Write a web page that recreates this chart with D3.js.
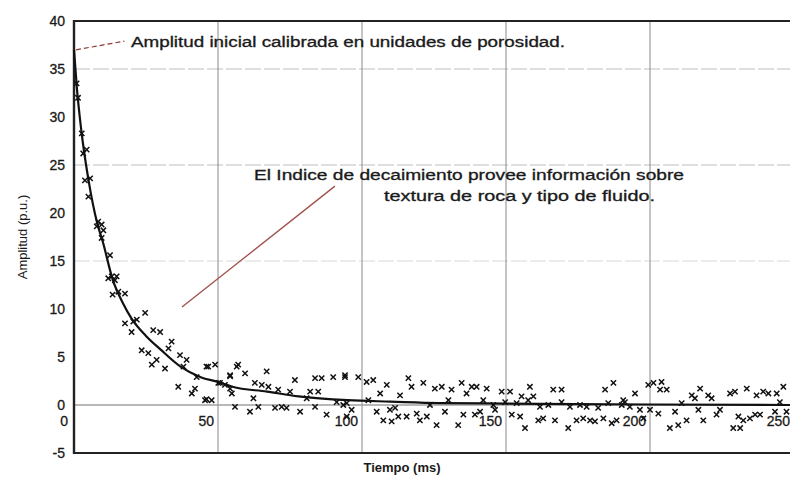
<!DOCTYPE html>
<html>
<head>
<meta charset="utf-8">
<script src="https://cdn.jsdelivr.net/npm/d3@7"></script>
<style>
  body { margin: 0; background: #fff; }
  text { font-family: "Liberation Sans", Arial, sans-serif; fill: #1a1a1a; }
  .ink { stroke: #1a1a1a; stroke-width: 0.3px; }
</style>
</head>
<body>
<div id="chart"></div>
<script>
  // fitted decay curve
  const curveT = [0, 1, 2, 3, 5, 8, 10, 13.5, 17, 20, 25, 30, 37, 44, 50, 55, 67, 78, 95, 110, 127, 150, 200, 250];
  const curveA = [37, 33, 30, 27.5, 23.5, 19, 17, 13, 10.6, 9, 7.2, 5.8, 4, 2.9, 2.4, 1.9, 1.4, 0.9, 0.5, 0.35, 0.2, 0.15, 0.05, 0];

  // measured echoes [tiempo, amplitud]
  const echoes = [
    [0.9, 33.5], [1.4, 32], [2.7, 28.3], [3.2, 26.2], [4.4, 26.6], [3.8, 23.4], [5.6, 23.6], [5, 21.7],
    [8.4, 19.1], [9.6, 18.8], [7.9, 18.6], [10.2, 18.2], [9.6, 17.4], [12.5, 15.6], [13.1, 13.4], [14.8, 13.4],
    [11.9, 13.2], [14.2, 13], [13.4, 11.5], [15.4, 11.8], [17.7, 11.6], [24.7, 9.6], [17.7, 8.5], [20.6, 8.7],
    [21.8, 8.9], [20, 7.6], [27.5, 7.8], [29.9, 7.6], [33.9, 6.6], [32.8, 5.9], [23.5, 5.7], [25.8, 5.4],
    [28.7, 4.7], [27, 4.2], [31.6, 3.8], [36.8, 5.2], [39.1, 4.7], [38, 4], [42.6, 2.9], [46.6, 4],
    [49, 4.2], [50.1, 2.3], [52.4, 2.1], [54.2, 1.7], [36.2, 1.9], [42, 1.7], [40.9, 1.2], [46, 0.6],
    [55.9, -0.2], [56.5, 4], [54.2, 3],
    [46, 4], [57, 4.2], [59.4, 3.3], [54.2, 3.1], [66.9, 3.5], [50.7, 2.3], [54.8, 1.2], [62.8, 2.3],
    [65.2, 2.1], [67.5, 1.9], [70.9, 1.6], [76.7, 2.6], [75, 1.4], [45.5, 0.5], [47.8, 0.5], [61.1, -0.7],
    [64, -0.2], [62.3, 0.7], [69.8, -0.3], [72.1, -0.2], [73.8, -0.3], [78.5, -0.7], [83.7, -0.2], [82, 1.4],
    [84.8, 1.4], [80.8, 0.7], [83.7, 2.8], [86, 2.8], [90, 2.9], [94.1, 2.9], [87.7, -1], [91.2, 0.3],
    [94.7, 0.2], [94.7, -1.2],
    [94.1, 3.1], [98.7, 2.9], [101.6, 2.4], [103.9, 2.6], [108.6, 2.1], [106.3, 1.2], [93.5, 0], [96.4, -0.5],
    [102.2, 0.5], [105.1, -0.7], [107.4, -1.6], [110.3, -1.7], [109.7, -0.5], [111.5, -0.3], [112.6, -1.2], [115.5, -1.2],
    [113.2, 1], [116.1, 2.8], [117.2, 1.9], [121.3, 2.3], [119, -0.9], [120.1, -1.6], [122.5, -1.2], [123.6, 0],
    [125.3, 1.7], [127.7, 1.9], [125.9, -2.1], [128.8, -0.7], [131.1, 1.6], [130, 0.5], [133.4, -2.1], [134.6, 2.3],
    [136.3, 1.2], [138.1, 1.9], [139.8, 1.9], [135.2, -1], [139.2, -1], [141, -0.7], [142.1, 0.5], [143.3, 1.7],
    [148.5, 1.4], [151.4, 1.4], [158.3, 1.9], [155.4, 0.9], [157.7, 0.5], [159.5, 0.9], [145.6, 0], [146.2, -0.5],
    [149.7, 0.3], [153.7, 0.2], [152, -1], [154.9, -1.2], [156.6, -2.4], [161.2, -1.6], [162.9, -1.4], [161.8, -0.2],
    [164.7, 0], [167, -1.6], [166.4, 1.6], [169.3, 1.6], [169.3, 0.3], [172.2, -0.2], [171.6, -2.4], [174.5, -1.6],
    [175.7, 0], [178, -0.2], [176.8, -1.4], [179.2, -1.6], [182, -0.3], [180.9, -1.7], [183.8, -1.4], [184.4, 1.6],
    [187.3, 2.3], [185.5, 0.2], [188.4, -1.6], [186.7, -1.9], [191.3, 0.3],
    [190.7, 0.5], [194.8, 1.2], [193, -0.2], [199.4, 2.1], [201.2, 2.3], [204, 2.4], [203.5, 1.6], [205.8, 1.6],
    [196.5, -0.5], [197.7, -1.4], [200, -0.5], [202.9, -0.9], [206.9, -2.4], [209.8, -2.1], [208.7, -0.7], [211, 0.2],
    [212.7, -1.6], [214.5, 1], [215.6, 0.7], [217.4, 1.7], [220.2, 1], [221.4, 0.7], [216.8, -0.5], [218.5, -1.6],
    [223.1, -1], [224.3, -0.5], [227.8, 1.2], [229.5, 1.4], [233.6, 1.7], [228.9, -2.4], [231.3, -2.4], [230.7, -1.2],
    [232.4, -1.6], [234.7, -1.4], [236.5, -1], [238.2, -1], [237, 1], [239.3, 1.4], [241.1, 1.2], [244, 1.2],
    [245.1, 0.3], [246.3, 1.9], [243.4, -0.7], [247.4, -0.7], [190.2, 0]
  ];

  const xTicks = [0, 50, 100, 150, 200, 250];
  const yTicks = [40, 35, 30, 25, 20, 15, 10, 5, 0, -5];
  const hGrid = [35, 25, 15];
  const vGrid = [50, 100, 150, 200, 250];

  const W = 790, H = 486;
  const svg = d3.select('#chart').append('svg')
    .attr('width', W)
    .attr('height', H);

  const x = d3.scaleLinear().domain([0, 250]).range([74, 794]);
  const y = d3.scaleLinear().domain([-5, 40]).range([453, 21]);

  // grid
  svg.append('g').selectAll('line').data(hGrid).join('line')
    .attr('x1', x(0)).attr('x2', W)
    .attr('y1', d => y(d)).attr('y2', d => y(d))
    .attr('stroke', d => d === 15 ? '#d8d8d8' : '#bdbdbd')
    .attr('stroke-width', 1)
    .attr('stroke-dasharray', '16,3');

  svg.append('g').selectAll('line').data(vGrid).join('line')
    .attr('x1', d => x(d)).attr('x2', d => x(d))
    .attr('y1', y(40)).attr('y2', y(-5))
    .attr('stroke', '#8a8a8a').attr('stroke-width', 1);

  // zero line
  svg.append('line')
    .attr('x1', x(0)).attr('x2', W)
    .attr('y1', y(0)).attr('y2', y(0))
    .attr('stroke', '#a0a0a0').attr('stroke-width', 1.6);

  // frame
  svg.append('line').attr('x1', x(0)).attr('x2', W).attr('y1', y(40)).attr('y2', y(40))
    .attr('stroke', '#222').attr('stroke-width', 2.2);
  svg.append('line').attr('x1', x(0)).attr('x2', W).attr('y1', y(-5)).attr('y2', y(-5))
    .attr('stroke', '#222').attr('stroke-width', 2.2);
  svg.append('line').attr('x1', x(0)).attr('x2', x(0)).attr('y1', y(40) - 1).attr('y2', y(-5) + 1)
    .attr('stroke', '#222').attr('stroke-width', 2.4);

  // tick labels
  svg.append('g').selectAll('text').data(yTicks).join('text')
    .attr('class', 'ink')
    .attr('x', 65)
    .attr('y', d => y(d))
    .attr('dy', '0.36em')
    .attr('text-anchor', 'end')
    .style('font-size', '14px')
    .text(d => d);

  svg.append('g').selectAll('text').data(xTicks).join('text')
    .attr('class', 'ink')
    .attr('x', d => x(d) - (d === 0 ? 6 : 4))
    .attr('y', y(0) + 16)
    .attr('dy', '0.36em')
    .attr('text-anchor', 'end')
    .style('font-size', '14px')
    .text(d => d);

  // axis titles
  svg.append('text')
    .attr('transform', `translate(22, ${y(17.5)}) rotate(-90)`)
    .attr('text-anchor', 'middle')
    .attr('dy', '0.35em')
    .style('font-size', '13px')
    .text('Amplitud (p.u.)');

  svg.append('text')
    .attr('x', 402)
    .attr('y', 472)
    .attr('text-anchor', 'middle')
    .style('font-size', '13px')
    .style('font-weight', 'bold')
    .text('Tiempo (ms)');

  // echoes
  svg.append('g').selectAll('path').data(echoes).join('path')
    .attr('transform', d => `translate(${x(d[0])}, ${y(d[1])})`)
    .attr('d', d3.symbol().type(d3.symbolTimes).size(20))
    .attr('fill', 'none')
    .attr('stroke', '#111')
    .attr('stroke-width', 1.5);

  // fitted curve
  const line = d3.line()
    .x((d, i) => x(curveT[i]))
    .y(d => y(d))
    .curve(d3.curveMonotoneX);

  svg.append('path')
    .datum(curveA)
    .attr('d', line)
    .attr('fill', 'none')
    .attr('stroke', '#111')
    .attr('stroke-width', 2.2);

  // annotations
  svg.append('line')
    .attr('x1', x(0) + 2).attr('y1', y(37))
    .attr('x2', x(17.5)).attr('y2', y(37.9))
    .attr('stroke', '#8a3b36').attr('stroke-width', 1.2)
    .attr('stroke-dasharray', '5,3');

  svg.append('text')
    .attr('class', 'ink')
    .attr('x', 131).attr('y', 47)
    .attr('textLength', 434).attr('lengthAdjust', 'spacingAndGlyphs')
    .style('font-size', '14px')
    .text('Amplitud inicial calibrada en unidades de porosidad.');

  svg.append('line')
    .attr('x1', x(37.5)).attr('y1', y(10.2))
    .attr('x2', x(90.6)).attr('y2', y(22.8))
    .attr('stroke', '#a0504a').attr('stroke-width', 1.3);

  svg.append('text')
    .attr('class', 'ink')
    .attr('x', 254).attr('y', 180)
    .attr('textLength', 430).attr('lengthAdjust', 'spacingAndGlyphs')
    .style('font-size', '14px')
    .text('El Indice de decaimiento provee información sobre');

  svg.append('text')
    .attr('class', 'ink')
    .attr('x', 384).attr('y', 201)
    .attr('textLength', 271).attr('lengthAdjust', 'spacingAndGlyphs')
    .style('font-size', '14px')
    .text('textura de roca y tipo de fluido.');
</script>
</body>
</html>
